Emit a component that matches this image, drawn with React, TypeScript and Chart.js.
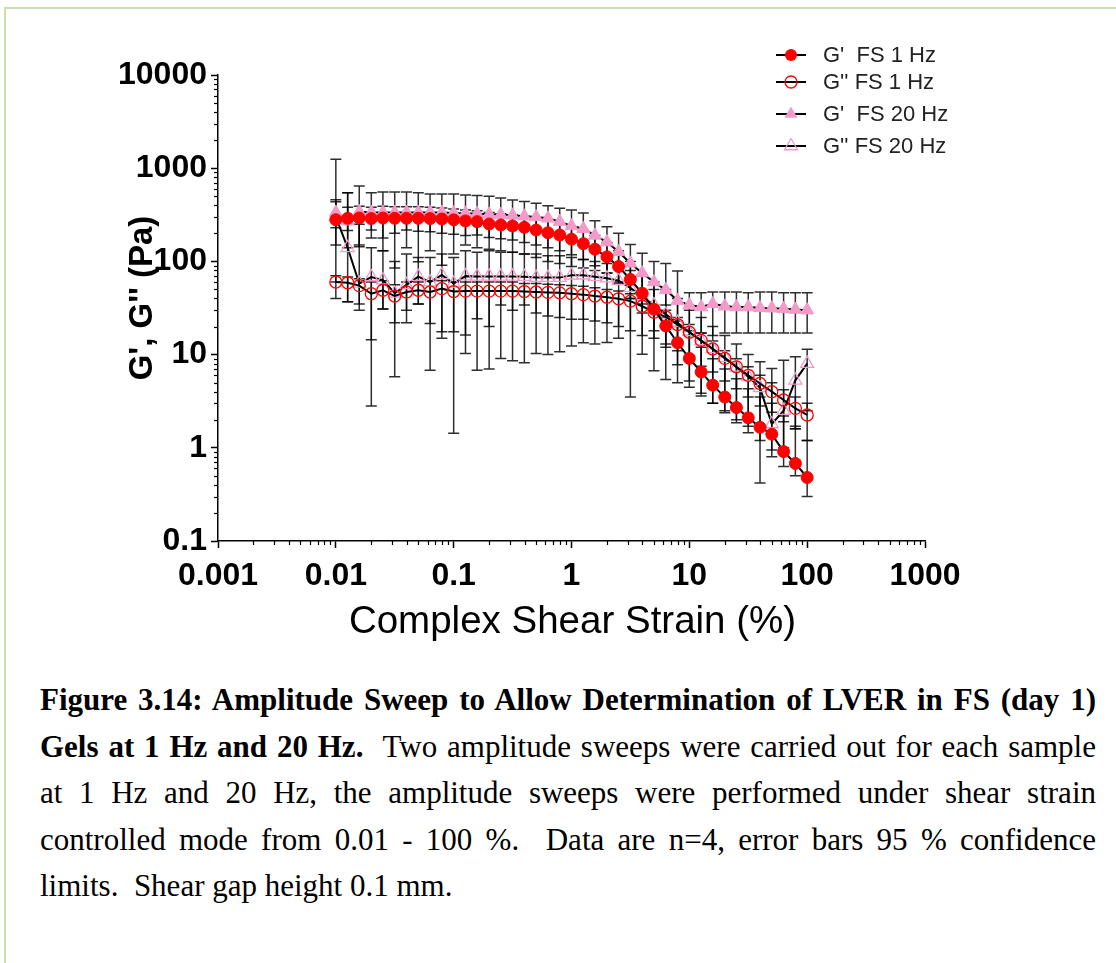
import React, { useEffect, useRef } from 'react';
import { Chart, registerables } from 'chart.js';
Chart.register(...registerables);

// ---------- DATA ----------
const strain = [0.01, 0.0126, 0.0158, 0.02, 0.0251, 0.0316, 0.0398, 0.0501, 0.0631, 0.0794,
  0.1, 0.126, 0.158, 0.2, 0.251, 0.316, 0.398, 0.501, 0.631, 0.794,
  1, 1.26, 1.58, 2, 2.51, 3.16, 3.98, 5.01, 6.31, 7.94,
  10, 12.6, 15.8, 20, 25.1, 31.6, 39.8, 50.1, 63.1, 79.4, 100];

const gp1 = [280, 290, 292, 288, 292, 290, 290, 290, 288, 285, 279, 272, 267, 252, 246, 240, 232, 217, 203, 192,
  173, 155, 135, 112, 88, 64, 45.5, 30.6, 20.3, 13.4, 9.1, 6.5, 4.7, 3.5, 2.7, 2.1, 1.66, 1.4, 0.91, 0.68, 0.48];
const gp1Up = [437, 380, 390, 380, 390, 385, 385, 385, 380, 375, 365, 355, 350, 335, 325, 315, 305, 290, 270, 255,
  235, 215, 190, 160, 130, 100, 72, 50, 34, 23, 16, 12, 9, 7, 5.5, 4.3, 3.5, 3.0, 2.2, 1.7, 1.2];
const gp1Lo = [150, 215, 144, 217, 178, 200, 217, 210, 208, 200, 195, 190, 192, 180, 175, 170, 160, 150, 140, 130,
  118, 105, 90, 75, 58, 40, 28, 18, 12, 7.8, 5.2, 3.85, 3.0, 2.37, 1.86, 1.45, 0.42, 0.95, 0.63, 0.5, 0.30];

const gpp1 = [60, 59, 55, 45, 49, 42.5, 47, 49, 47, 51, 47.5, 48, 48, 48, 48, 48, 47.5, 47, 46.5, 46,
  45, 44, 42.5, 41.3, 39.7, 37.5, 33, 28.5, 25.4, 21, 17.4, 14.2, 11.5, 9.1, 7.4, 6.0, 4.9, 4.0, 3.26, 2.65, 2.25];
const gpp1Up = [70, 68, 65, 60, 62, 56, 60, 60, 62, 62, 60, 60, 60, 60, 60, 60, 58, 58, 57, 56,
  55, 54, 52, 50, 48, 45, 40, 34, 30, 25, 21, 17, 14, 11, 9, 7.4, 6.0, 5.0, 4.2, 3.5, 3.0];
const gpp1Lo = [40, 37, 35, 14.4, 30.8, 22, 30, 35, 21.6, 17.6, 17.6, 16.2, 24.3, 20, 34, 30, 34, 28, 26, 25,
  24, 24, 23, 22, 20, 18, 16, 15, 13, 11, 9, 7.5, 6.5, 5.2, 4.3, 3.5, 2.8, 2.4, 1.9, 1.6, 1.2];

const gp20 = [335, 270, 340, 335, 335, 335, 335, 335, 335, 335, 330, 328, 325, 320, 318, 312, 305, 300, 290, 267,
  240, 224, 190, 161, 127, 95.5, 75, 60, 49.5, 38, 34, 32.4, 35, 33, 32.4, 32.4, 31.7, 31.5, 31, 30.5, 30];
const gp20Up = [460, 546, 644, 546, 556, 556, 556, 546, 530, 530, 530, 516, 510, 500, 480, 456, 440, 420, 395, 371,
  355, 330, 273, 235, 200, 152, 122, 100, 95, 79, 46, 46, 47, 47, 47, 46, 47, 47, 46, 46, 46];
const gp20Lo = [230, 140, 150, 178, 130, 85, 140, 99, 130, 91, 120, 150, 140, 135, 130, 125, 120, 110, 100, 95,
  88, 85, 80, 75, 60, 40, 35, 30, 25, 20, 18, 17, 16, 17, 17, 17, 17, 17, 17, 17, 17];

const gpp20 = [300, 140, 58, 68, 63, 45.5, 56, 68.5, 60, 71.5, 58, 69.5, 69, 69, 69, 69, 68.5, 67, 67, 67,
  71, 71, 68.5, 66, 62, 52, 42, 34, 27, 22, 17.5, 14, 11.5, 9.3, 7.3, 5.8, 4.4, 1.8, 2.5, 5.3, 8.0];
const gpp20Up = [1247, 546, 250, 140, 130, 100, 120, 110, 110, 120, 110, 130, 125, 130, 125, 125, 120, 120, 115, 115,
  110, 105, 100, 95, 88, 80, 70, 60, 50, 40, 30, 25, 20, 16, 13, 10, 8.4, 7.1, 8.7, 9.5, 11.4];
const gpp20Lo = [60, 37, 30, 2.8, 30.8, 5.8, 22, 35, 6.8, 15, 1.43, 10.3, 6.8, 7.0, 9.1, 8.6, 8.2, 10.3, 10, 10.7,
  12.4, 13.4, 13, 13.5, 15, 3.5, 10.1, 6.7, 5.4, 5.0, 4.45, 3.6, 3.0, 2.5, 2.0, 1.7, 1.2, 0.8, 1.0, 1.6, 2.5];

const seriesLabels = ["G'  FS 1 Hz", "G'' FS 1 Hz", "G'  FS 20 Hz", "G'' FS 20 Hz"];
const xTickValues = [0.001, 0.01, 0.1, 1, 10, 100, 1000];
const xTickLabels = ['0.001', '0.01', '0.1', '1', '10', '100', '1000'];
const yTickValues = [0.1, 1, 10, 100, 1000, 10000];
const yTickLabels = ['0.1', '1', '10', '100', '1000', '10000'];
const xTitle = 'Complex Shear Strain (%)';
const yTitle = "G', G'' (Pa)";

const RED = '#ff0000';
const PINK = '#f39ac9';
const FONT = '"Liberation Sans", Arial, sans-serif';

const errorSets = [
  { lo: gp1Lo, up: gp1Up },
  { lo: gpp1Lo, up: gpp1Up },
  { lo: gp20Lo, up: gp20Up },
  { lo: gpp20Lo, up: gpp20Up },
];

const errorBarPlugin = {
  id: 'errorBars',
  beforeDatasetsDraw(chart: any) {
    const { ctx } = chart;
    const xs = chart.scales.x;
    const ys = chart.scales.y;
    ctx.save();
    ctx.strokeStyle = 'rgba(0,0,0,0.82)';
    ctx.lineWidth = 1.5;
    const cap = 5.5;
    for (let s = errorSets.length - 1; s >= 0; s--) {
      const { lo, up } = errorSets[s];
      for (let i = 0; i < strain.length; i++) {
        const x = xs.getPixelForValue(strain[i]);
        const y1 = ys.getPixelForValue(lo[i]);
        const y2 = ys.getPixelForValue(up[i]);
        ctx.beginPath();
        ctx.moveTo(x, y1);
        ctx.lineTo(x, y2);
        ctx.moveTo(x - cap, y1);
        ctx.lineTo(x + cap, y1);
        ctx.moveTo(x - cap, y2);
        ctx.lineTo(x + cap, y2);
        ctx.stroke();
      }
    }
    ctx.restore();
  },
};

const minorTickPlugin = {
  id: 'minorTicks',
  afterDraw(chart: any) {
    const { ctx, chartArea } = chart;
    const xs = chart.scales.x;
    const ys = chart.scales.y;
    ctx.save();
    ctx.strokeStyle = '#000';
    ctx.lineWidth = 1.2;
    for (let d = 0; d < xTickValues.length - 1; d++) {
      for (let m = 2; m <= 9; m++) {
        const px = Math.round(xs.getPixelForValue(xTickValues[d] * m)) + 0.5;
        ctx.beginPath();
        ctx.moveTo(px, chartArea.bottom);
        ctx.lineTo(px, chartArea.bottom + 4);
        ctx.stroke();
      }
    }
    for (let d = 0; d < yTickValues.length - 1; d++) {
      for (let m = 2; m <= 9; m++) {
        const py = Math.round(ys.getPixelForValue(yTickValues[d] * m)) + 0.5;
        ctx.beginPath();
        ctx.moveTo(chartArea.left, py);
        ctx.lineTo(chartArea.left - 4, py);
        ctx.stroke();
      }
    }
    ctx.restore();
  },
};

function drawMarker(ctx: any, kind: number, x: number, y: number) {
  ctx.save();
  if (kind === 0 || kind === 1) {
    ctx.beginPath();
    ctx.arc(x, y, 6, 0, Math.PI * 2);
    if (kind === 0) { ctx.fillStyle = RED; ctx.fill(); }
    else { ctx.strokeStyle = RED; ctx.lineWidth = 1.3; ctx.stroke(); }
  } else {
    const r = 7.5;
    ctx.beginPath();
    for (let k = 0; k < 3; k++) {
      const a = k * 2 * Math.PI / 3;
      const px = x + Math.sin(a) * r;
      const py = y - Math.cos(a) * r;
      if (k === 0) ctx.moveTo(px, py); else ctx.lineTo(px, py);
    }
    ctx.closePath();
    if (kind === 2) { ctx.fillStyle = PINK; ctx.fill(); }
    else { ctx.strokeStyle = PINK; ctx.lineWidth = 1.3; ctx.stroke(); }
  }
  ctx.restore();
}

const legendPlugin = {
  id: 'customLegend',
  afterDraw(chart: any) {
    const { ctx } = chart;
    const rows = [55, 82, 114, 146];
    ctx.save();
    ctx.font = `22px ${FONT}`;
    ctx.textBaseline = 'middle';
    ctx.textAlign = 'left';
    for (let i = 0; i < seriesLabels.length; i++) {
      const y = rows[i];
      ctx.strokeStyle = '#000';
      ctx.lineWidth = 2;
      ctx.beginPath();
      ctx.moveTo(776, y);
      ctx.lineTo(806, y);
      ctx.stroke();
      drawMarker(ctx, i, 791, y);
      ctx.fillStyle = '#222';
      ctx.fillText(seriesLabels[i], 823, y + 1);
    }
    ctx.restore();
  },
};

const titlePlugin = {
  id: 'axisTitles',
  afterDraw(chart: any) {
    const { ctx, chartArea } = chart;
    ctx.save();
    ctx.fillStyle = '#000';
    ctx.textAlign = 'center';
    ctx.textBaseline = 'middle';
    ctx.font = `38.5px ${FONT}`;
    ctx.fillText(xTitle, (chartArea.left + chartArea.right) / 2 + 1, 622);
    ctx.translate(143, 298);
    ctx.rotate(-Math.PI / 2);
    ctx.font = `bold 33px ${FONT}`;
    ctx.fillText(yTitle, 0, 0);
    ctx.restore();
  },
};

function ChartCanvas() {
  const ref = useRef<HTMLCanvasElement | null>(null);
  useEffect(() => {
    if (!ref.current) return;
    const mk = (vals: number[]) => strain.map((x, i) => ({ x, y: vals[i] }));
    const common = { borderColor: '#000', borderWidth: 2, showLine: true, tension: 0 };
    const chart = new Chart(ref.current, {
      type: 'scatter',
      data: {
        datasets: [
          { ...common, label: seriesLabels[0], data: mk(gp1), pointStyle: 'circle', pointRadius: 6,
            pointBackgroundColor: RED, pointBorderColor: RED, pointBorderWidth: 1 },
          { ...common, label: seriesLabels[1], data: mk(gpp1), pointStyle: 'circle', pointRadius: 6,
            pointBackgroundColor: 'rgba(0,0,0,0)', pointBorderColor: RED, pointBorderWidth: 1.3 },
          { ...common, label: seriesLabels[2], data: mk(gp20), pointStyle: 'triangle', pointRadius: 7.5,
            pointBackgroundColor: PINK, pointBorderColor: PINK, pointBorderWidth: 1 },
          { ...common, label: seriesLabels[3], data: mk(gpp20), pointStyle: 'triangle', pointRadius: 7.5,
            pointBackgroundColor: 'rgba(0,0,0,0)', pointBorderColor: PINK, pointBorderWidth: 1.3 },
        ],
      },
      options: {
        animation: false,
        responsive: false,
        devicePixelRatio: 1,
        layout: { padding: { left: 0, top: 75, right: 75, bottom: 0 } },
        plugins: { legend: { display: false }, tooltip: { enabled: false } },
        scales: {
          x: {
            type: 'logarithmic',
            min: 0.001,
            max: 1000,
            afterBuildTicks: (s: any) => { s.ticks = xTickValues.map((v) => ({ value: v })); },
            afterFit: (s: any) => { s.height = 119; },
            ticks: {
              autoSkip: false,
              maxRotation: 0,
              padding: 9,
              color: '#000',
              font: { family: FONT, size: 32, weight: 'bold' },
              callback: (_v: any, i: number) => xTickLabels[i],
            },
            grid: { display: true, drawOnChartArea: false, drawTicks: true, tickLength: 7, tickColor: '#000', tickWidth: 1.5 },
            border: { display: true, color: '#000', width: 1.5 },
          },
          y: {
            type: 'logarithmic',
            min: 0.1,
            max: 10000,
            afterBuildTicks: (s: any) => { s.ticks = yTickValues.map((v) => ({ value: v })); },
            afterFit: (s: any) => { s.width = 218; },
            ticks: {
              autoSkip: false,
              padding: 4,
              color: '#000',
              font: { family: FONT, size: 32, weight: 'bold' },
              callback: (_v: any, i: number) => yTickLabels[i],
            },
            grid: { display: true, drawOnChartArea: false, drawTicks: true, tickLength: 7, tickColor: '#000', tickWidth: 1.5 },
            border: { display: true, color: '#000', width: 1.5 },
          },
        },
      } as any,
      plugins: [errorBarPlugin, minorTickPlugin, legendPlugin, titlePlugin],
    });
    return () => chart.destroy();
  }, []);
  return <canvas ref={ref} width={1000} height={660} style={{ position: 'absolute', left: 0, top: 0 }} />;
}

const lineStyle: React.CSSProperties = {
  textAlign: 'justify',
  textAlignLast: 'justify' as any,
  whiteSpace: 'normal',
  height: 46.5,
  lineHeight: '46.5px',
};

export default function App() {
  return (
    <div style={{ position: 'absolute', left: 0, top: 0, width: 1116, height: 963, background: '#fff', overflow: 'hidden' }}>
      <div style={{ position: 'absolute', left: 4, top: 7, right: 0, bottom: 0, borderTop: '2px solid #c9e2ad', borderLeft: '2px solid #c9e2ad' }} />
      <ChartCanvas />
      <div style={{ position: 'absolute', left: 40, top: 677, width: 1056, fontFamily: '"Liberation Serif", "Times New Roman", serif', fontSize: 31, color: '#000' }}>
        <div style={lineStyle}><b>Figure 3.14: Amplitude Sweep to Allow Determination of LVER in FS (day 1)</b></div>
        <div style={lineStyle}><b>Gels at 1 Hz and 20 Hz.</b>{'\u00a0 Two amplitude sweeps were carried out for each sample'}</div>
        <div style={lineStyle}>at 1 Hz and 20 Hz, the amplitude sweeps were performed under shear strain</div>
        <div style={lineStyle}>{'controlled mode from 0.01 - 100 %.\u00a0 Data are n=4, error bars 95 % confidence'}</div>
        <div style={{ ...lineStyle, textAlign: 'left', textAlignLast: 'left' as any }}>{'limits.\u00a0 Shear gap height 0.1 mm.'}</div>
      </div>
    </div>
  );
}
